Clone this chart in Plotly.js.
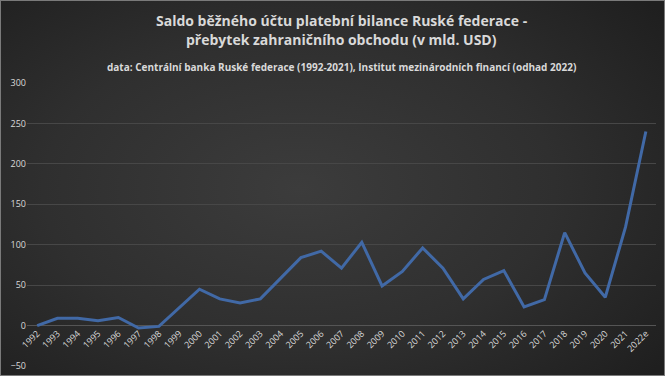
<!DOCTYPE html>
<html>
<head>
<meta charset="utf-8">
<script src="https://cdn.plot.ly/plotly-3.0.1.min.js"></script>
<style>
  html, body { margin: 0; padding: 0; background: #1e1e1e; }
  #wrap { position: relative; width: 665px; height: 376px;
    background: radial-gradient(ellipse 70% 75% at 45% 50%, #3c3c3c 0%, #2f2f2f 55%, #1f1f1f 100%); }
  #chart { position: absolute; left: 0; top: 0; width: 665px; height: 376px; }
  #frame { position: absolute; left: 0; top: 0; width: 663px; height: 374px; border: 1px solid #7a7a7a; pointer-events: none; }
</style>
</head>
<body>
<div id="wrap"><div id="chart"></div><div id="frame"></div></div>
<script>
const years = ["1992","1993","1994","1995","1996","1997","1998","1999","2000","2001",
  "2002","2003","2004","2005","2006","2007","2008","2009","2010","2011",
  "2012","2013","2014","2015","2016","2017","2018","2019","2020","2021","2022e"];
const balance = [0, 9, 9, 6, 10, -3, -1, 22, 45, 33,
  28, 33, 59, 84, 92, 71, 103, 49, 67, 96,
  71, 33, 57, 68, 23, 32, 115, 65, 35, 122, 240];
const yTicks = [-50, 0, 50, 100, 150, 200, 250, 300];

const txt = '#d9d9d9';
const fam = 'Open Sans, DejaVu Sans, sans-serif';

function note(text, shift, size) {
  return { text: text, xref: 'paper', yref: 'paper', x: 0.5, y: 1, yshift: shift,
    xanchor: 'center', yanchor: 'middle', showarrow: false,
    font: { size: size, color: txt, family: fam } };
}

Plotly.newPlot('chart', [{
  x: years, y: balance, type: 'scatter', mode: 'lines',
  line: { color: '#4169a6', width: 3 }, hoverinfo: 'x+y'
}], {
  width: 665, height: 376,
  paper_bgcolor: 'rgba(0,0,0,0)', plot_bgcolor: 'rgba(0,0,0,0)',
  margin: { l: 27, r: 9, t: 83, b: 10 },
  showlegend: false,
  font: { family: fam, color: txt },
  annotations: [
    note('<b>Saldo běžného účtu platební bilance Ruské federace -</b>', 63, 14),
    note('<b>přebytek zahraničního obchodu (v mld. USD)</b>', 44, 14),
    note('<b>data: Centrální banka Ruské federace (1992-2021), Institut mezinárodních financí (odhad 2022)</b>', 16, 10)
  ],
  xaxis: {
    type: 'category', range: [-0.5, 30.5], anchor: 'free', position: 50/350,
    showgrid: false, showline: false, zeroline: false, ticks: '',
    tickangle: -45, tickfont: { size: 9, color: txt, family: fam }
  },
  yaxis: {
    range: [-50, 300], tickvals: yTicks, showgrid: true, gridcolor: '#474747', gridwidth: 1,
    zeroline: true, zerolinecolor: '#555555', zerolinewidth: 1, showline: false, ticks: '',
    tickfont: { size: 9, color: txt, family: fam }
  }
}, { displayModeBar: false, staticPlot: true });
</script>
</body>
</html>
